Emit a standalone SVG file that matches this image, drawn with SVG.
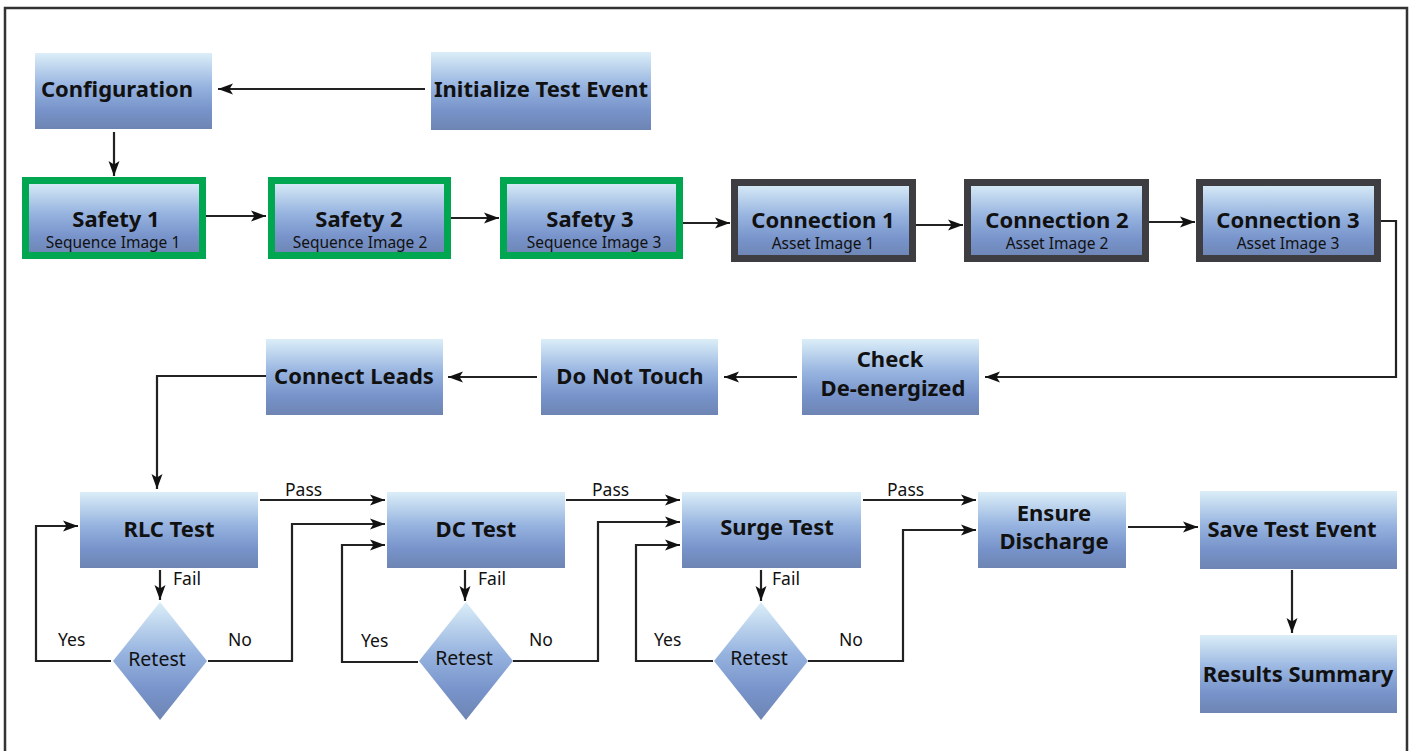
<svg xmlns="http://www.w3.org/2000/svg" width="1413" height="751" viewBox="0 0 1413 751">
<defs>
<linearGradient id="g" x1="0" y1="0" x2="0" y2="1">
<stop offset="0" stop-color="#dbeef8"/>
<stop offset="0.45" stop-color="#95b2df"/>
<stop offset="0.75" stop-color="#7793ca"/>
<stop offset="1" stop-color="#6e85b3"/>
</linearGradient>
<marker id="a" markerUnits="userSpaceOnUse" markerWidth="16" markerHeight="12" refX="15" refY="6" orient="auto">
<path d="M0,0.5 L15,6 L0,11.5 L3.5,6 z" fill="#111"/>
</marker>
<style>
.b{fill:url(#g);}
.sf{fill:url(#g);stroke:#00a650;stroke-width:7;}
.cn{fill:url(#g);stroke:#3d3d42;stroke-width:7;}
.t{font-family:"Noto Sans","Open Sans",sans-serif;font-weight:bold;font-size:22px;fill:#111;text-anchor:middle;}
.s{font-family:"Noto Sans","Open Sans",sans-serif;font-size:15.5px;fill:#111;text-anchor:middle;}
.r{font-family:"Noto Sans","Open Sans",sans-serif;font-size:19.5px;fill:#111;text-anchor:middle;}
.l{font-family:"Noto Sans","Open Sans",sans-serif;font-size:17.5px;fill:#111;}
.c{fill:none;stroke:#222;stroke-width:2.2;marker-end:url(#a);}
</style>
</defs>
<rect width="1413" height="751" fill="#fff"/>
<path d="M5,751 V8 H1407 V751" fill="none" stroke="#333" stroke-width="2.5"/>

<g id="connectors">
<path class="c" d="M425,89 H218"/>
<path class="c" d="M114,132 V176"/>
<path class="c" d="M206,216 H266"/>
<path class="c" d="M451,218 H499"/>
<path class="c" d="M683,223 H730"/>
<path class="c" d="M916,225 H963"/>
<path class="c" d="M1149,222 H1195"/>
<path class="c" d="M1381,221 H1396 V377 H985"/>
<path class="c" d="M797,377 H724"/>
<path class="c" d="M537,377 H448"/>
<path class="c" d="M266,376 H157 V489"/>
<path class="c" d="M260,500 H385"/>
<path class="c" d="M160,570 V600"/>
<path class="c" d="M111,661 H36 V526 H78"/>
<path class="c" d="M208,661 H292 V524 H385"/>
<path class="c" d="M566,500 H680"/>
<path class="c" d="M465,570 V601"/>
<path class="c" d="M418,662 H342 V545 H385"/>
<path class="c" d="M513,661 H598 V522 H680"/>
<path class="c" d="M713,661 H636 V545 H680"/>
<path class="c" d="M863,500 H976"/>
<path class="c" d="M761,570 V601"/>
<path class="c" d="M808,661 H903 V530 H976"/>
<path class="c" d="M1128,527 H1198"/>
<path class="c" d="M1292,570 V633"/>
<text class="l" x="285" y="496">Pass</text>
<text class="l" x="592" y="496">Pass</text>
<text class="l" x="887" y="496">Pass</text>
<text class="l" x="173" y="585">Fail</text>
<text class="l" x="478" y="585">Fail</text>
<text class="l" x="772" y="585">Fail</text>
<text class="l" x="58" y="646">Yes</text>
<text class="l" x="228" y="646">No</text>
<text class="l" x="361" y="647">Yes</text>
<text class="l" x="529" y="646">No</text>
<text class="l" x="654" y="646">Yes</text>
<text class="l" x="839" y="646">No</text>
</g>

<g id="configuration"><rect class="b" x="35" y="53" width="177" height="76"/><text class="t" x="117" y="97">Configuration</text></g>
<g id="initialize"><rect class="b" x="431" y="52" width="220" height="78"/><text class="t" x="541" y="97">Initialize Test Event</text></g>

<g id="safety1"><rect class="sf" x="25.5" y="180.5" width="177" height="75"/><text class="t" x="116" y="227">Safety 1</text><text class="s" x="113" y="248">Sequence Image 1</text></g>
<g id="safety2"><rect class="sf" x="271.5" y="180.5" width="176" height="75"/><text class="t" x="359" y="227">Safety 2</text><text class="s" x="360" y="248">Sequence Image 2</text></g>
<g id="safety3"><rect class="sf" x="503.5" y="180.5" width="176" height="75"/><text class="t" x="590" y="227">Safety 3</text><text class="s" x="594" y="248">Sequence Image 3</text></g>

<g id="connection1"><rect class="cn" x="734.5" y="182.5" width="178" height="76"/><text class="t" x="823" y="228">Connection 1</text><text class="s" x="823" y="249">Asset Image 1</text></g>
<g id="connection2"><rect class="cn" x="967.5" y="182.5" width="178" height="76"/><text class="t" x="1057" y="228">Connection 2</text><text class="s" x="1057" y="249">Asset Image 2</text></g>
<g id="connection3"><rect class="cn" x="1199.5" y="182.5" width="178" height="76"/><text class="t" x="1288" y="228">Connection 3</text><text class="s" x="1288" y="249">Asset Image 3</text></g>

<g id="check"><rect class="b" x="802" y="339" width="177" height="76"/><text class="t" x="890" y="367">Check</text><text class="t" x="893" y="396">De-energized</text></g>
<g id="donottouch"><rect class="b" x="541" y="339" width="177" height="76"/><text class="t" x="630" y="384">Do Not Touch</text></g>
<g id="connectleads"><rect class="b" x="266" y="339" width="177" height="76"/><text class="t" x="354" y="384">Connect Leads</text></g>

<g id="rlc"><rect class="b" x="80" y="492" width="178" height="76"/><text class="t" x="169" y="537">RLC Test</text></g>
<g id="dc"><rect class="b" x="387" y="492" width="178" height="76"/><text class="t" x="476" y="537">DC Test</text></g>
<g id="surge"><rect class="b" x="682" y="492" width="179" height="76"/><text class="t" x="777" y="535">Surge Test</text></g>
<g id="ensure"><rect class="b" x="978" y="492" width="148" height="76"/><text class="t" x="1054" y="521">Ensure</text><text class="t" x="1054" y="549">Discharge</text></g>
<g id="save"><rect class="b" x="1200" y="491" width="197" height="78"/><text class="t" x="1292" y="537">Save Test Event</text></g>
<g id="results"><rect class="b" x="1200" y="635" width="197" height="78"/><text class="t" x="1298" y="682">Results Summary</text></g>

<g id="retest1"><path class="b" d="M160,602 L207,661 L160,720 L113,661 z"/><text class="r" x="157" y="666">Retest</text></g>
<g id="retest2"><path class="b" d="M466,602 L513,661 L466,720 L419,661 z"/><text class="r" x="464" y="665">Retest</text></g>
<g id="retest3"><path class="b" d="M761,602 L808,661 L761,720 L714,661 z"/><text class="r" x="759" y="665">Retest</text></g>
</svg>
